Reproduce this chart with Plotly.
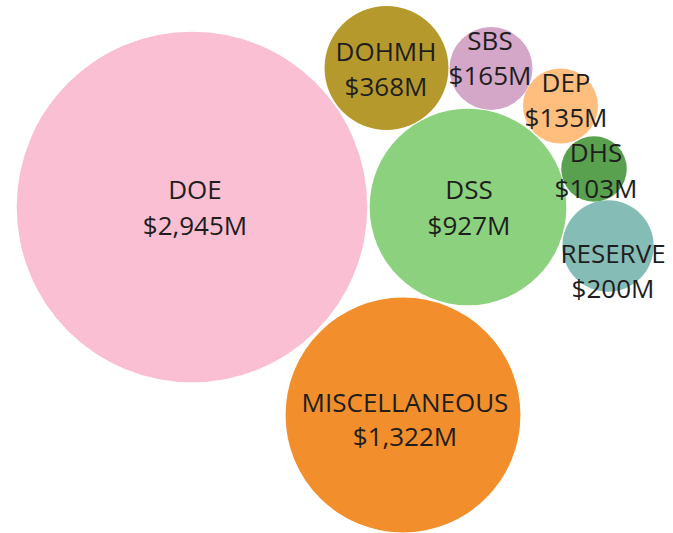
import plotly.graph_objects as go

# ---- data ----
agencies = ["DOE", "MISCELLANEOUS", "DSS", "DOHMH", "RESERVE", "SBS", "DEP", "DHS"]
amounts_musd = [2945, 1322, 927, 368, 200, 165, 135, 103]
value_labels = ["$2,945M", "$1,322M", "$927M", "$368M", "$200M", "$165M", "$135M", "$103M"]

# ---- layout (packed bubble placement, in pixel units of the plot area) ----
centers_x = [192, 403, 468, 386.5, 608, 491, 560.5, 594]
centers_y = [207, 415, 207, 68, 246, 68.5, 106, 169]
label_x = [195, 405, 469, 386, 613, 490, 566, 596]
name_y = [192, 405, 192, 54, 256, 43, 85, 155]
value_y = [228, 439, 228, 89, 291, 78, 120, 191]

# ---- styles ----
colors = ["#FABFD2", "#F28E2B", "#8CD17D", "#B6992D", "#86BCB6", "#D4A6C8", "#FFBE7D", "#59A14F"]
px_per_sqrt = 3.23  # radius in px per sqrt($M)
W, H = 673, 533

fig = go.Figure()
fig.add_trace(go.Scatter(
    x=centers_x, y=centers_y, mode="markers",
    marker=dict(size=amounts_musd, sizemode="area",
                sizeref=2.0 / (2 * px_per_sqrt) ** 2,
                color=colors, opacity=1, line=dict(width=0)),
    hoverinfo="skip", showlegend=False,
))
font = dict(family="Open Sans, Noto Sans, sans-serif", size=26, color="#1e1e1e")
fig.add_trace(go.Scatter(
    x=label_x, y=name_y, mode="text", text=agencies,
    textposition="middle center", textfont=font,
    hoverinfo="skip", showlegend=False,
))
fig.add_trace(go.Scatter(
    x=label_x, y=value_y, mode="text", text=value_labels,
    textposition="middle center", textfont=font,
    hoverinfo="skip", showlegend=False,
))
fig.update_layout(
    width=W, height=H, margin=dict(l=0, r=0, t=0, b=0),
    paper_bgcolor="white", plot_bgcolor="white",
    xaxis=dict(range=[0, W], visible=False, fixedrange=True),
    yaxis=dict(range=[H, 0], visible=False, fixedrange=True),
)
fig.write_html("out.html", config={"displayModeBar": False},
               post_script="document.body.style.margin='0';document.body.style.overflow='hidden';")
